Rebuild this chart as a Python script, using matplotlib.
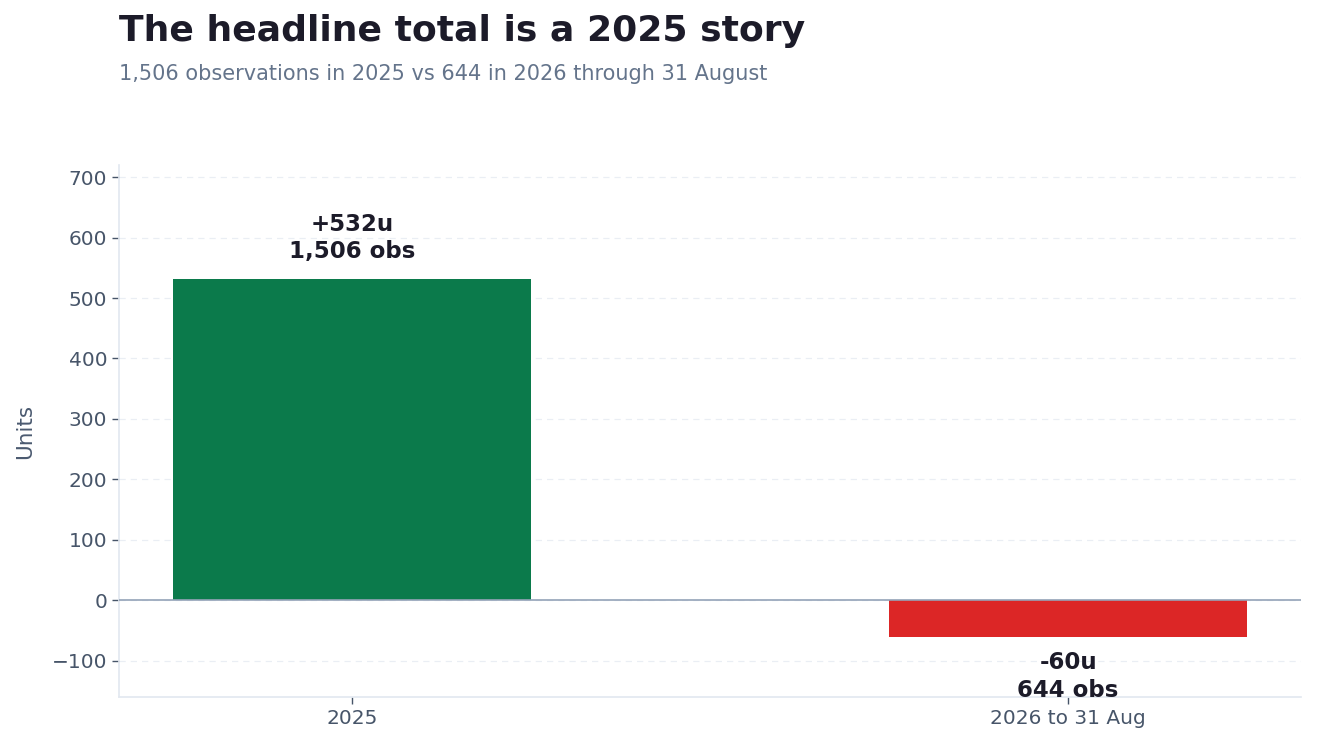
import matplotlib
matplotlib.use("Agg")
import matplotlib.pyplot as plt

plt.rcParams["font.family"] = ["DejaVu Sans"]

# chart values
periods = ["2025", "2026 to 31 Aug"]
net_units = [532, -60]
observations = [1506, 644]
bar_colors = ["#0b7a4b", "#dc2626"]

fig = plt.figure(figsize=(13.18, 7.49), dpi=100)
ax = fig.add_axes([119 / 1318, 1 - 697 / 749, (1301 - 119) / 1318, (697 - 165) / 749])

x = range(len(periods))
ax.bar(x, net_units, width=0.5, color=bar_colors, zorder=2)
ax.axhline(0, color="#94a3b8", linewidth=1.2, zorder=3)

# labels above / below each bar
for i, (v, n) in enumerate(zip(net_units, observations)):
    label = f"{v:+d}u\n{n:,} obs"
    if v >= 0:
        ax.annotate(label, (i, v), xytext=(0, 11), textcoords="offset points",
                    ha="center", va="bottom", fontsize=16.5, fontweight="bold",
                    color="#1c1b29", linespacing=1.25, zorder=5)
    else:
        ax.annotate(label, (i, v), xytext=(0, -10.5), textcoords="offset points",
                    ha="center", va="top", fontsize=16.5, fontweight="bold",
                    color="#1c1b29", linespacing=1.25, zorder=5)

ax.set_xticks(list(x))
ax.set_xticklabels(periods)
ax.set_xlim(-0.325, 1.325)
ax.set_ylim(-160, 720)
ax.set_yticks(range(-100, 701, 100))
ax.set_ylabel("Units", fontsize=15.5, color="#4b5a70", labelpad=12)

ax.grid(axis="y", linestyle=(0, (5, 4)), color="#e2e8f0", linewidth=0.9, alpha=0.7, zorder=0)
ax.set_axisbelow(True)
for side in ["top", "right"]:
    ax.spines[side].set_visible(False)
for side in ["left", "bottom"]:
    ax.spines[side].set_color("#e2e8f0")
    ax.spines[side].set_linewidth(1.2)
ax.tick_params(axis="both", labelsize=14.5, colors="#475569", length=5, width=1)

fig.text(119 / 1318, 1 - 31 / 749, "The headline total is a 2025 story",
         fontsize=26, fontweight="bold", color="#1c1b29", ha="left", va="center")
fig.text(119 / 1318, 1 - 74 / 749, "1,506 observations in 2025 vs 644 in 2026 through 31 August",
         fontsize=15, color="#64748b", ha="left", va="center")

fig.savefig("out.png", dpi=100)
